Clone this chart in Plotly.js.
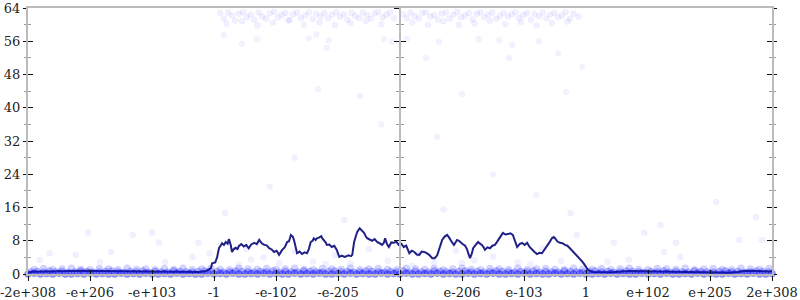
<!DOCTYPE html>
<html>
<head>
<meta charset="utf-8">
<script src="https://cdn.plot.ly/plotly-3.0.1.min.js"></script>
<style>html,body{margin:0;padding:0;background:#fff}#chart{width:800px;height:300px}</style>
</head>
<body>
<div id="chart"></div>
<script>
// tick positions (ordinal float axis) and labels
const tickPos = [-6,-5,-4,-3,-2,-1,0,1,2,3,4,5,6];
const tickLabels = ["-2e+308","-e+206","-e+103","-1","-e-102","-e-205","0","e-206","e-103","1","e+102","e+205","2e+308"];

// averaged error line
const lineX = [-6.00,-5.94,-5.70,-5.50,-5.30,-5.13,-4.85,-4.58,-4.30,-4.05,
  -3.80,-3.52,-3.24,-3.13,-3.05,-3.03,-2.98,-2.95,-2.92,-2.89,
  -2.87,-2.84,-2.81,-2.78,-2.76,-2.73,-2.71,-2.68,-2.65,-2.62,
  -2.60,-2.56,-2.52,-2.48,-2.44,-2.40,-2.35,-2.31,-2.27,-2.23,
  -2.19,-2.15,-2.11,-2.07,-2.03,-1.99,-1.95,-1.90,-1.86,-1.82,
  -1.79,-1.76,-1.73,-1.71,-1.68,-1.66,-1.62,-1.58,-1.54,-1.50,
  -1.47,-1.44,-1.41,-1.39,-1.36,-1.34,-1.30,-1.27,-1.25,-1.23,
  -1.20,-1.18,-1.14,-1.10,-1.06,-1.02,-0.98,-0.94,-0.89,-0.83,
  -0.79,-0.77,-0.74,-0.71,-0.69,-0.65,-0.62,-0.58,-0.55,-0.53,
  -0.49,-0.45,-0.41,-0.37,-0.33,-0.29,-0.26,-0.24,-0.21,-0.18,
  -0.14,-0.10,-0.06,-0.02,0.02,0.06,0.10,0.15,0.19,0.23,
  0.27,0.31,0.35,0.39,0.43,0.47,0.52,0.56,0.60,0.63,
  0.66,0.68,0.72,0.76,0.79,0.81,0.84,0.87,0.90,0.92,
  0.95,0.97,1.01,1.05,1.08,1.10,1.13,1.16,1.18,1.22,
  1.26,1.29,1.32,1.35,1.37,1.41,1.45,1.49,1.53,1.56,
  1.58,1.62,1.66,1.70,1.74,1.78,1.82,1.86,1.89,1.93,
  1.97,2.01,2.05,2.09,2.13,2.17,2.21,2.25,2.29,2.33,
  2.37,2.41,2.45,2.48,2.50,2.54,2.58,2.62,2.66,2.70,
  2.74,2.78,2.82,2.86,2.90,2.94,2.98,3.03,3.10,3.42,
  3.69,3.95,4.23,4.50,4.77,5.05,5.31,5.45,5.58,5.80,
  6.00];
const lineY = [0.3,0.55,0.6,0.7,0.75,0.8,0.75,0.7,0.65,0.55,
  0.5,0.4,0.5,0.7,1.4,2.6,2.8,4.0,6.2,6.9,
  7.4,7.0,7.7,7.3,8.4,7.0,5.3,6.0,6.3,6.0,
  6.7,7.2,6.6,7.0,6.2,7.1,7.5,7.2,8.2,7.4,
  7.0,6.9,6.2,5.9,5.3,5.6,4.6,5.8,6.4,7.7,
  7.9,9.4,9.0,8.2,6.5,5.0,5.4,4.8,5.2,5.0,
  6.0,7.7,8.0,8.6,8.2,8.6,8.8,9.1,8.5,8.2,
  7.6,7.0,7.1,6.5,6.8,5.8,4.1,4.4,4.1,4.5,
  4.3,4.6,7.7,9.2,10.1,11.0,10.6,9.9,9.0,8.6,
  8.3,8.0,8.4,7.7,7.4,7.0,7.5,8.6,7.2,6.5,
  7.6,7.5,7.8,7.0,7.3,6.5,6.8,5.0,5.6,5.3,
  4.7,4.6,5.4,5.3,5.0,4.6,3.8,3.8,4.5,5.8,
  7.0,8.2,9.0,9.4,8.8,8.2,7.6,7.0,7.8,8.2,
  8.0,7.7,7.2,6.8,6.0,5.0,3.8,5.0,6.2,7.0,
  7.7,7.3,7.0,6.4,5.8,6.4,6.2,6.8,7.0,7.6,
  8.2,9.0,9.9,9.5,9.6,9.8,9.4,8.0,6.5,7.2,
  7.5,7.0,7.5,6.5,5.8,5.3,4.8,5.1,5.0,5.8,
  6.5,7.6,8.6,8.9,8.6,7.8,7.5,7.4,7.0,6.8,
  6.2,5.6,5.0,4.4,3.8,3.0,2.2,1.0,0.5,0.4,
  0.7,0.65,0.55,0.6,0.55,0.45,0.3,0.5,0.8,0.7,
  0.6];

// sample points: dense row at 0 bits of error
const row0X = [-6.0,-5.9,-5.8,-5.7,-5.6,-5.5,-5.4,-5.3,-5.2,-5.1,-5.0,-4.9,-4.8,-4.7,-4.6,-4.5,-4.4,-4.3,-4.2,-4.1,-4.0,-3.9,-3.8,-3.7,-3.6,-3.5,-3.4,-3.3,-3.2,-3.1,-3.0,-2.9,-2.8,-2.7,-2.6,-2.5,-2.4,-2.3,-2.2,-2.1,-2.0,-1.9,-1.8,-1.7,-1.6,-1.5,-1.4,-1.3,-1.2,-1.1,-1.0,-0.9,-0.8,-0.7,-0.6,-0.5,-0.4,-0.3,-0.2,-0.1,0.0,0.1,0.2,0.3,0.4,0.5,0.6,0.7,0.8,0.9,1.0,1.1,1.2,1.3,1.4,1.5,1.6,1.7,1.8,1.9,2.0,2.1,2.2,2.3,2.4,2.5,2.6,2.7,2.8,2.9,3.0,3.1,3.2,3.3,3.4,3.5,3.6,3.7,3.8,3.9,4.0,4.1,4.2,4.3,4.4,4.5,4.6,4.7,4.8,4.9,5.0,5.1,5.2,5.3,5.4,5.5,5.6,5.7,5.8,5.9,6.0];
const row0Y = [0,0.2,0,0.1,0,0.2,0,0,0.1,0,0.2,0,0.1,0,0,0.2,0,0.1,0,0.2,0,0,0.1,0,0.2,0,0.1,0,0,0.2,0,0.1,0,0.2,0,0,0.1,0,0.2,0,0.1,0,0,0.2,0,0.1,0,0.2,0,0,0.1,0,0.2,0,0.1,0,0,0.2,0,0.1,0,0.2,0,0,0.1,0,0.2,0,0.1,0,0,0.2,0,0.1,0,0.2,0,0,0.1,0,0.2,0,0.1,0,0,0.2,0,0.1,0,0.2,0,0,0.1,0,0.2,0,0.1,0,0,0.2,0,0.1,0,0.2,0,0,0.1,0,0.2,0,0.1,0,0,0.2,0,0.1,0,0.2,0,0,0.1];
// second row, between 0 and 1 bit
const rowHX = [-5.95,-5.85,-5.75,-5.65,-5.55,-5.45,-5.35,-5.25,-5.15,-5.05,-4.95,-4.85,-4.75,-4.65,-4.55,-4.45,-4.35,-4.25,-4.15,-4.05,-3.95,-3.85,-3.75,-3.65,-3.55,-3.45,-3.35,-3.25,-3.15,-3.05,-2.95,-2.85,-2.75,-2.65,-2.55,-2.45,-2.35,-2.25,-2.15,-2.05,-1.95,-1.85,-1.75,-1.65,-1.55,-1.45,-1.35,-1.25,-1.15,-1.05,-0.95,-0.85,-0.75,-0.65,-0.55,-0.45,-0.35,-0.25,-0.15,-0.05,
  0.05,0.15,0.25,0.35,0.45,0.55,0.65,0.75,0.85,0.95,1.05,1.15,1.25,1.35,1.45,1.55,1.65,1.75,1.85,1.95,2.05,2.15,2.25,2.35,2.45,2.55,2.65,2.75,2.85,2.95,3.05,3.15,3.25,3.35,3.45,3.55,3.65,3.75,3.85,3.95,4.05,4.15,4.25,4.35,4.45,4.55,4.65,4.75,4.85,4.95,5.05,5.15,5.25,5.35,5.45,5.55,5.65,5.75,5.85,5.95];
const rowHY = [0.5,0.6,0.4,0.7,0.5,0.6,0.4,0.5,0.7,0.6,0.4,0.5,0.6,0.7,0.5,0.4,0.6,0.5,0.7,0.4,0.6,0.5,0.4,0.7,0.6,0.5,0.4,0.6,0.7,0.5,0.6,0.4,0.5,0.7,0.6,0.5,0.4,0.6,0.5,0.7,0.4,0.6,0.5,0.4,0.7,0.6,0.5,0.4,0.6,0.7,0.5,0.6,0.4,0.5,0.7,0.6,0.5,0.4,0.6,0.5,
  0.7,0.4,0.6,0.5,0.4,0.7,0.6,0.5,0.4,0.6,0.7,0.5,0.6,0.4,0.5,0.7,0.6,0.5,0.4,0.6,0.5,0.7,0.4,0.6,0.5,0.4,0.7,0.6,0.5,0.4,0.6,0.7,0.5,0.6,0.4,0.5,0.7,0.6,0.5,0.4,0.6,0.5,0.7,0.4,0.6,0.5,0.4,0.7,0.6,0.5,0.4,0.6,0.7,0.5,0.6,0.4,0.5,0.7,0.6,0.5];
// row near 1 bit of error
const row1X = [-5.9,-5.75,-5.6,-5.45,-5.3,-5.15,-5.0,-4.85,-4.7,-4.55,-4.4,-4.25,-4.1,-3.95,-3.8,-3.65,-3.5,-3.35,-3.2,-3.05,-2.9,-2.75,-2.6,-2.45,-2.3,-2.15,-2.0,-1.85,-1.7,-1.55,-1.4,-1.25,-1.1,-0.95,-0.8,-0.65,-0.5,-0.35,-0.2,-0.05,0.1,0.25,0.4,0.55,0.7,0.85,1.0,1.15,1.3,1.45,1.6,1.75,1.9,2.05,2.2,2.35,2.5,2.65,2.8,2.95,3.1,3.25,3.4,3.55,3.7,3.85,4.0,4.15,4.3,4.45,4.6,4.75,4.9,5.05,5.2,5.35,5.5,5.65,5.8,5.95];
const row1Y = [1.1,1.3,1.0,1.2,1.4,1.1,1.0,1.3,1.2,1.0,1.4,1.1,1.2,1.0,1.3,1.1,1.4,1.0,1.2,1.3,1.1,1.0,1.4,1.2,1.1,1.3,1.0,1.2,1.4,1.1,1.0,1.3,1.2,1.1,1.4,1.0,1.2,1.3,1.1,1.0,1.4,1.2,1.1,1.3,1.0,1.2,1.4,1.1,1.0,1.3,1.2,1.1,1.4,1.0,1.2,1.3,1.1,1.0,1.4,1.2,1.1,1.3,1.0,1.2,1.4,1.1,1.0,1.3,1.2,1.1,1.4,1.0,1.2,1.3,1.1,1.0,1.4,1.2,1.1,1.3];
// scattered low-error points
const lowX = [-5.81,-5.65,-5.23,-5.03,-4.84,-4.66,-4.31,-4.0,-3.89,-3.79,-3.35,-3.25,-3.07,-2.82,-2.48,-2.40,-2.2,-1.95,-1.7,-1.4,-1.05,-0.8,-0.5,-0.2,0.3,0.55,0.9,1.2,1.5,1.9,2.3,2.6,2.75,2.85,3.35,3.45,3.69,3.94,4.2,4.26,4.45,4.52,5.1,5.47,5.74,5.84,-2.6,-1.2,0.2,1.0,2.1,-0.9,0.7];
const lowY = [3.4,5.0,4.6,9.9,2.9,5.3,9.4,9.9,7.5,2.9,4.1,7.5,5.0,14.7,6.0,3.5,4.0,2.6,5.5,3.0,4.5,2.5,6.0,3.2,4.8,2.7,5.6,3.3,4.2,2.8,6.2,3.1,14.7,9.4,2.9,7.5,3.4,9.9,11.8,5.3,7.5,4.1,17.3,8.2,13.7,8.2,2.2,2.4,2.0,2.6,2.3,13.0,15.5];
// scattered mid/high points
const midX = [-2.55,-2.31,-1.47,-1.35,-1.18,-1.15,-1.32,-0.65,-0.26,-0.13,0.11,0.63,0.42,1.76,1.81,1.27,1.6,2.55,2.24,2.94,1.0,2.68,-1.7,-2.1,1.5,0.6,-0.3,2.2,-2.84];
const midY = [55.4,56.5,56.7,57.6,54.4,56.2,44.5,42.8,56.5,55.9,56.5,55.9,52,52,55.1,56.5,56.2,53.1,56,49.8,43.3,43.8,28,21,24,33,36,19,57.5];
// points at ~62 bits of error
const topX = [-2.90,-2.84,-2.77,-2.71,-2.66,-2.60,-2.53,-2.47,-2.41,-2.35,-2.28,-2.22,-2.16,-2.10,-2.03,-1.97,-1.91,-1.85,-1.78,-1.72,-1.66,-1.60,-1.53,-1.47,-1.41,-1.35,-1.28,-1.22,-1.16,-1.10,-1.03,-0.97,-0.91,-0.85,-0.78,-0.72,-0.66,-0.60,-0.53,-0.47,-0.41,-0.35,-0.28,-0.22,-0.16,-0.10,
  -2.80,-2.55,-2.30,-2.05,-1.80,-1.55,-1.30,-1.05,-0.80,-0.55,-0.30,
  0.05,0.11,0.17,0.24,0.30,0.36,0.42,0.49,0.55,0.61,0.67,0.74,0.80,0.86,0.92,0.99,1.05,1.11,1.17,1.24,1.30,1.36,1.42,1.49,1.55,1.61,1.67,1.74,1.80,1.86,1.92,1.99,2.05,2.11,2.17,2.24,2.30,2.36,2.42,2.49,2.55,2.61,2.67,2.74,2.80,2.88,
  0.20,0.45,0.70,0.95,1.20,1.45,1.70,1.95,2.20,2.45,2.70];
const topY = [62.8,61.5,62.9,62.2,61.0,62.6,63.0,61.8,62.4,61.2,62.9,62.0,61.4,62.7,63.1,61.7,62.3,62.8,61.1,62.5,62.9,61.6,62.2,63.0,61.3,62.6,62.0,62.8,61.5,62.4,63.0,61.9,62.5,61.2,62.8,62.1,61.6,62.9,62.3,61.4,62.7,63.0,61.8,62.4,62.9,61.5,
  60.2,60.8,59.8,60.5,61.0,60.0,60.6,59.9,60.4,60.9,60.1,
  62.5,61.6,62.9,62.1,61.4,62.8,63.0,61.9,62.3,61.2,62.7,62.9,61.5,62.4,63.1,61.8,62.2,62.8,61.3,62.6,63.0,61.7,62.4,62.9,61.4,62.1,62.8,61.9,62.5,63.0,61.6,62.3,62.8,61.2,62.6,62.0,62.9,61.5,62.4,62.8,61.8,62.2,63.0,61.4,62.6,61.9,
  60.5,60.0,60.8,59.9,60.3,60.9,60.1,60.6,59.8,60.4,60.7];

function pts(x, y, alpha, size, xa, ya) {
  return {x: x, y: y, type: 'scatter', mode: 'markers', cliponaxis: false, hoverinfo: 'skip',
    xaxis: xa, yaxis: ya,
    marker: {size: size, color: 'rgba(0,0,255,' + alpha + ')',
      line: {width: 0.6, color: 'rgba(0,0,255,' + (alpha * 0.8) + ')'}}};
}
const traces = [
  pts(row1X, row1Y, 0.16, 7, 'x', 'y'),
  pts(rowHX, rowHY, 0.26, 7, 'x2', 'y2'),
  pts(row0X, row0Y, 0.42, 7, 'x', 'y'),
  pts(lowX, lowY, 0.06, 6, 'x', 'y3'),
  pts(midX, midY, 0.05, 6, 'x', 'y4'),
  pts(topX, topY, 0.06, 6, 'x', 'y'),
  {x: lineX, y: lineY, type: 'scatter', mode: 'lines', line: {color: 'rgb(32,32,135)', width: 2}, hoverinfo: 'skip'}
];

const tickFont = {family: 'DejaVu Serif, serif', size: 13, color: '#222'};
const layout = {
  width: 800, height: 300,
  margin: {l: 28, r: 28, t: 8, b: 26},
  showlegend: false,
  paper_bgcolor: '#fff', plot_bgcolor: '#fff',
  xaxis: {range: [-6, 6], tickmode: 'array', tickvals: tickPos, ticktext: tickLabels,
    ticks: 'outside', ticklen: 5, tickcolor: '#111', tickwidth: 1, tickfont: tickFont,
    ticklabeloverflow: 'allow',
    showline: true, linecolor: '#bbb', linewidth: 2, mirror: true,
    showgrid: false, zeroline: false, fixedrange: true},
  xaxis2: {overlaying: 'x', matches: 'x', range: [-6, 6], tickmode: 'array', tickvals: tickPos,
    ticks: 'inside', ticklen: 4, tickcolor: '#111', showticklabels: false, showline: false,
    showgrid: false, zeroline: false},
  yaxis: {range: [0, 64], tickmode: 'linear', tick0: 0, dtick: 8,
    ticks: 'outside', ticklen: 3, tickcolor: '#111', tickfont: tickFont,
    minor: {dtick: 4, ticks: 'outside', ticklen: 2, tickcolor: '#999'},
    showline: true, linecolor: '#bbb', linewidth: 2, mirror: 'ticks',
    showgrid: false, zeroline: false, fixedrange: true},
  yaxis2: {overlaying: 'y', matches: 'y', anchor: 'x2', range: [0, 64], tickmode: 'linear', tick0: 0, dtick: 8,
    ticks: 'inside', ticklen: 5, tickcolor: '#111', showticklabels: false,
    minor: {dtick: 4, ticks: 'inside', ticklen: 3, tickcolor: '#999'},
    showline: false, mirror: 'ticks', showgrid: false, zeroline: false},
  yaxis3: {overlaying: 'y', matches: 'y', anchor: 'free', position: 0.5, range: [0, 64],
    tickmode: 'linear', tick0: 0, dtick: 8, ticks: 'outside', ticklen: 5, tickcolor: '#111',
    showticklabels: false, minor: {dtick: 4, ticks: 'outside', ticklen: 3, tickcolor: '#999'},
    showline: true, linecolor: '#bbb', linewidth: 2, showgrid: false, zeroline: false},
  yaxis4: {overlaying: 'y', matches: 'y', anchor: 'free', position: 0.5, range: [0, 64],
    tickmode: 'linear', tick0: 0, dtick: 8, ticks: 'inside', ticklen: 5, tickcolor: '#111',
    showticklabels: false, minor: {dtick: 4, ticks: 'inside', ticklen: 3, tickcolor: '#999'},
    showline: false, showgrid: false, zeroline: false}
};
Plotly.newPlot('chart', traces, layout, {staticPlot: true, displayModeBar: false});
</script>
</body>
</html>
